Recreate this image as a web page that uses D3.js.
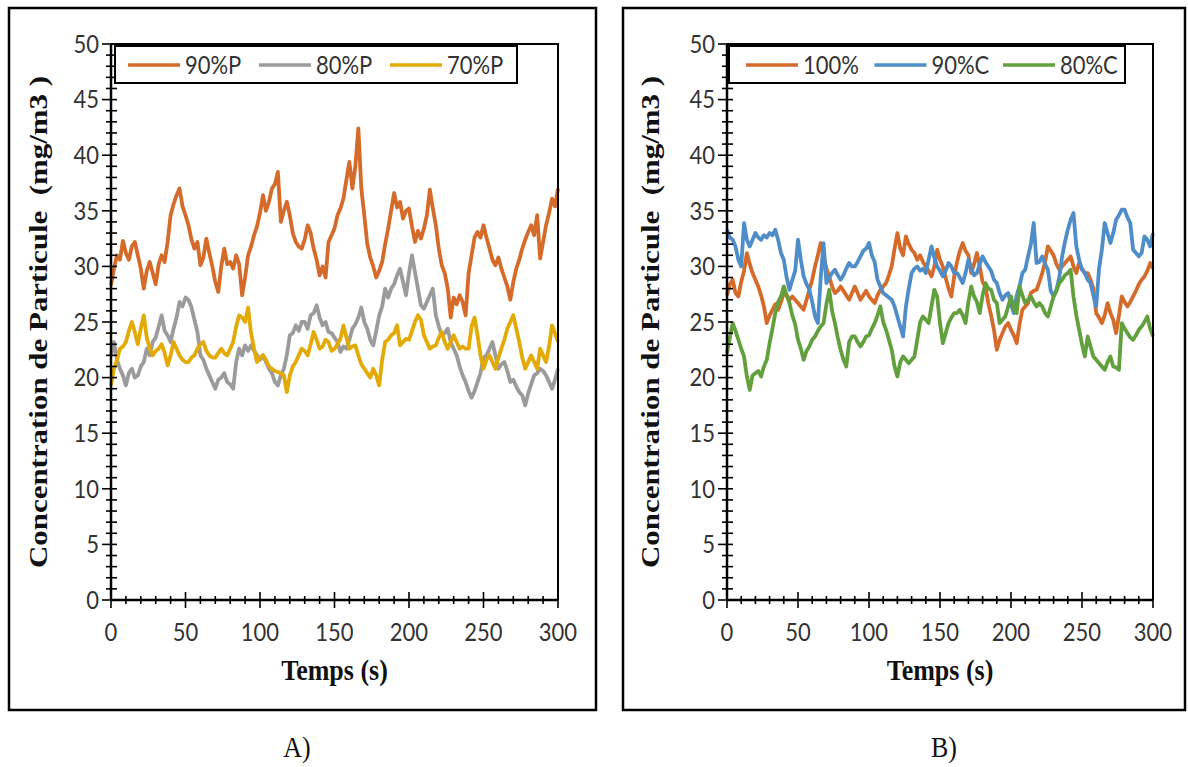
<!DOCTYPE html>
<html><head><meta charset="utf-8">
<script src="https://cdn.jsdelivr.net/npm/d3@7"></script>
<style>body{margin:0;background:#fff;} svg{display:block;} text{white-space:pre;}</style>
</head><body><svg id="c" width="1188" height="767"></svg>
<script>
// ---------- data ----------
const time = d3.range(0, 301, 2); // seconds, one reading every 2 s
const yTicks = [0,5,10,15,20,25,30,35,40,45,50];
const xTicks = [0,50,100,150,200,250,300];
const namesA = ["90%P","80%P","70%P"];
const namesB = ["100%","90%C","80%C"];
const colorsA = ["#D56B2A","#9B9B9B","#E3AA06"];
const colorsB = ["#D56B2A","#4E8DC8","#62A03E"];

const p90 = [28.3,29.8,31.0,30.6,32.3,31.2,30.6,31.8,32.2,31.0,
29.8,28.0,29.6,30.4,29.4,28.4,30.2,31.0,30.4,32.2,
34.6,35.6,36.4,37.0,35.4,34.6,33.7,32.4,31.6,32.2,
30.1,30.8,32.5,31.2,30.0,28.6,27.7,30.0,31.6,30.2,
30.4,29.8,31.0,30.2,27.4,29.0,31.0,31.8,32.8,33.6,
34.8,36.4,35.0,35.8,37.0,37.4,38.5,34.0,35.0,35.8,
34.6,33.0,32.2,31.8,31.6,32.4,33.7,33.0,31.6,30.6,
29.2,30.0,29.0,32.2,32.8,33.4,34.6,35.2,36.1,37.8,
39.4,37.0,39.0,42.4,37.0,34.6,32.0,30.8,30.0,29.0,
29.6,30.4,32.0,33.4,35.0,36.6,35.3,35.8,34.3,35.0,
35.2,33.6,32.2,33.2,32.5,33.4,34.6,36.9,35.2,33.7,
31.6,30.1,29.4,28.0,25.4,27.2,26.6,27.4,26.8,25.6,
29.4,31.0,32.6,33.1,32.6,33.7,32.6,31.6,30.6,30.1,
30.8,29.8,29.0,28.2,27.0,28.6,29.8,30.6,31.6,32.4,
33.1,33.7,32.8,34.6,30.7,32.2,33.7,34.8,36.1,35.4,
37.0];
const p80 = [22.0,23.2,21.6,20.8,20.2,19.3,20.4,20.8,20.0,20.2,
21.0,21.4,22.6,22.0,23.2,23.6,24.6,25.6,24.2,23.8,
23.2,24.4,25.4,26.8,26.4,27.2,27.0,26.3,25.2,24.1,
22.0,21.6,20.8,20.2,19.6,19.0,19.8,20.0,20.4,19.6,
19.4,19.0,21.4,22.6,22.0,22.9,22.4,22.9,22.4,22.0,
21.6,22.0,21.4,20.8,20.4,19.6,19.3,20.2,20.8,22.0,
23.8,24.0,24.7,24.2,25.0,25.0,24.4,25.6,25.8,26.5,
25.4,24.7,25.0,24.1,24.0,23.6,23.2,22.3,22.8,22.6,
23.4,24.4,24.8,25.4,26.3,25.0,24.4,23.4,22.9,24.2,
25.6,26.4,28.0,27.2,28.0,28.4,29.2,29.8,28.6,27.4,
29.4,31.0,29.5,28.0,26.5,26.2,26.8,27.4,28.0,25.6,
24.6,23.8,24.0,24.4,23.2,22.6,22.0,21.0,20.2,19.6,
18.8,18.2,18.8,19.6,20.4,21.8,22.0,22.6,23.2,22.0,
20.8,21.2,21.4,20.6,19.6,19.8,19.2,18.7,18.4,17.5,
18.6,19.4,20.2,20.4,20.8,20.6,20.2,19.6,19.0,19.8,
20.8];
const p70 = [19.3,20.8,21.6,22.6,22.8,23.2,24.2,25.0,24.1,23.0,
24.4,25.6,23.6,22.6,22.0,22.4,22.6,23.0,22.2,21.1,
22.0,23.2,22.6,22.0,21.6,21.4,21.4,21.8,22.0,22.6,
23.0,23.2,22.4,22.0,21.8,21.8,22.2,22.6,22.2,22.0,
22.6,23.2,24.6,25.6,25.4,25.0,26.3,24.0,22.6,21.4,
21.8,22.0,21.6,21.0,20.8,20.6,20.5,20.4,20.2,18.7,
20.2,21.0,21.4,22.0,22.6,22.4,22.0,23.0,24.1,23.4,
22.6,22.8,23.4,23.2,22.4,22.6,23.0,23.5,24.7,23.6,
22.6,22.8,22.9,22.0,21.2,20.8,20.4,20.0,20.8,20.2,
19.3,21.6,23.2,23.4,23.8,24.0,24.7,22.9,23.2,23.5,
23.4,24.2,25.0,25.6,25.2,23.8,23.2,22.6,22.8,22.9,
23.6,24.1,23.2,22.6,23.2,23.8,23.2,22.6,22.8,22.6,
22.6,24.6,25.4,23.8,22.0,20.8,21.6,22.0,21.4,20.8,
21.8,22.6,23.4,24.4,25.0,25.6,24.4,23.2,21.8,20.8,
21.4,22.0,21.4,20.8,22.6,22.0,21.4,22.8,24.7,24.0,
23.2];
const c100 = [27.4,28.4,28.8,27.6,27.3,28.6,29.6,31.2,30.2,29.4,
28.8,28.2,27.4,26.4,24.9,25.6,26.1,26.6,26.1,26.8,
27.6,27.4,27.0,27.3,27.0,26.7,26.4,26.1,27.0,27.9,
28.8,30.0,31.0,32.1,31.0,29.8,29.1,28.2,27.6,27.8,
28.2,27.8,27.4,27.0,27.6,28.2,27.6,27.0,27.4,27.8,
27.3,27.0,26.7,27.4,27.9,28.2,28.5,29.2,30.0,31.6,
33.0,31.6,31.0,32.7,32.0,31.5,31.2,30.6,31.0,30.4,
30.0,29.6,29.1,30.0,31.5,30.6,30.0,29.0,28.0,27.3,
29.1,30.4,31.4,32.1,31.4,31.0,29.4,30.2,31.2,30.0,
28.6,28.2,26.7,25.6,24.3,22.5,23.4,24.0,24.6,24.9,
24.3,23.8,23.1,24.8,26.1,26.4,26.7,27.6,27.8,27.9,
28.6,29.4,30.4,31.8,31.4,31.0,30.2,29.7,30.0,30.3,
30.6,30.9,30.0,29.4,30.3,29.8,29.4,29.4,28.8,28.0,
25.8,25.4,24.9,25.6,26.7,25.8,25.2,24.0,25.6,27.3,
26.8,26.4,26.8,27.3,27.8,28.4,28.8,29.1,29.6,30.3,
29.8];
const c90 = [33.3,32.6,32.4,31.8,30.6,30.0,33.9,32.4,31.8,32.4,
33.0,32.6,32.4,32.8,32.6,33.0,32.8,33.3,32.4,31.2,
30.6,29.0,27.9,28.8,29.6,32.4,30.6,29.1,28.4,27.9,
26.8,25.5,24.9,29.0,32.1,28.5,29.0,29.4,29.7,29.2,
28.8,29.2,29.8,30.3,30.0,30.0,30.4,30.9,31.4,31.6,
32.1,31.0,30.4,28.8,28.2,27.6,27.4,27.2,27.0,26.4,
25.5,24.6,23.7,26.4,28.0,29.4,29.8,30.0,29.6,29.8,
29.4,30.6,31.8,30.8,30.0,29.6,29.1,29.6,30.3,30.0,
29.4,29.4,29.0,28.5,29.4,30.6,29.8,29.2,29.4,30.2,
30.9,30.4,30.0,29.6,28.8,28.5,27.6,27.0,27.4,27.6,
26.6,25.8,27.4,28.2,29.4,29.7,30.9,32.0,33.9,30.3,
30.4,30.9,30.2,29.7,27.8,27.3,27.9,29.0,30.9,32.2,
33.3,34.2,34.8,31.8,30.6,29.7,29.4,28.8,28.5,27.4,
26.4,29.8,31.5,33.9,33.0,32.1,33.0,34.2,34.6,35.1,
35.1,34.4,33.9,31.5,31.2,30.9,31.2,32.7,32.4,31.8,
33.0];
const c80 = [22.2,23.6,24.9,24.2,23.4,22.6,21.9,20.1,18.9,20.2,
20.4,20.6,20.1,21.0,21.6,23.1,24.4,25.8,26.8,27.3,
28.2,27.4,26.7,25.6,24.8,23.4,22.6,21.6,22.4,22.8,
23.4,23.7,24.2,24.6,24.9,26.6,27.9,26.0,24.9,23.6,
22.5,21.6,21.0,23.2,23.7,23.7,23.2,22.8,23.2,23.7,
23.8,24.4,24.9,25.6,26.4,25.0,24.3,23.4,22.5,21.0,
20.1,21.4,21.9,21.6,21.3,21.6,21.9,23.4,25.0,25.5,
25.2,24.9,26.4,27.9,27.3,24.9,23.1,24.0,24.9,25.4,
25.8,25.8,26.1,25.6,24.9,26.8,28.2,27.3,26.8,25.8,
27.4,28.5,28.0,27.9,27.0,26.7,24.9,25.2,25.5,26.4,
27.3,26.2,25.8,28.2,27.4,26.7,27.0,27.3,26.8,26.4,
26.7,26.4,25.8,25.5,26.4,27.3,27.8,28.5,28.8,29.2,
29.4,29.7,27.3,25.6,24.3,23.0,21.9,23.7,22.8,21.9,
21.6,21.3,21.0,20.7,21.4,21.9,21.0,20.9,20.7,24.9,
24.4,24.0,23.6,23.4,23.8,24.3,24.6,25.0,25.5,24.4,
23.7];

const seriesA = [p90, p80, p70];
const seriesB = [c100, c90, c80];

// ---------- drawing ----------
const svg = d3.select("#c");
const TICK_FONT = "Lato, 'Open Sans', sans-serif";
const SERIF = "'Liberation Serif', 'Times New Roman', serif";
const STRETCH = 1.15; // the reference picture is stretched vertically

function stext(g, x, y, sy) {
  return g.append("text").attr("transform", `translate(${x},${y}) scale(1,${sy})`);
}

function panel(cfg) {
  const g = svg.append("g");
  g.append("rect").attr("x", cfg.frame[0]).attr("y", cfg.frame[1])
    .attr("width", cfg.frame[2]).attr("height", cfg.frame[3])
    .attr("fill", "none").attr("stroke", "#000").attr("stroke-width", 2.5);

  const x = d3.scaleLinear().domain([0, 300]).range([cfg.x0, cfg.x1]);
  const y = d3.scaleLinear().domain([0, 50]).range([600, 44]);

  const line = d3.line().x((d, i) => x(time[i])).y(d => y(d));
  cfg.series.forEach((s, k) => {
    g.append("path").datum(s).attr("d", line)
      .attr("fill", "none").attr("stroke", cfg.colors[k])
      .attr("stroke-width", 3.8).attr("stroke-linejoin", "round");
  });

  g.append("path")
    .attr("d", `M${x(0)},${y(50)}H${x(300)}V${y(0)}`)
    .attr("fill", "none").attr("stroke", "#000").attr("stroke-width", 2);

  const yMinor = d3.range(0, 51, 1);
  g.append("g").selectAll("line").data(yMinor).join("line")
    .attr("x1", d => x(0) - (d % 5 === 0 ? 9 : 5)).attr("x2", x(0) + 6)
    .attr("y1", d => y(d)).attr("y2", d => y(d))
    .attr("stroke", "#000").attr("stroke-width", 1.6);
  g.append("line").attr("x1", x(0)).attr("x2", x(0)).attr("y1", y(0)).attr("y2", y(50))
    .attr("stroke", "#000").attr("stroke-width", 2.5);
  yTicks.forEach(d => {
    stext(g, x(0) - 12, y(d), 1.1).attr("dy", "0.36em")
      .attr("text-anchor", "end").attr("font-family", TICK_FONT).attr("font-size", 22)
      .attr("fill", "#333").text(d);
  });

  const xMinor = d3.range(0, 301, 10);
  g.append("g").selectAll("line").data(xMinor).join("line")
    .attr("x1", d => x(d)).attr("x2", d => x(d))
    .attr("y1", d => y(0) - (d % 50 === 0 ? 8 : 4)).attr("y2", d => y(0) + (d % 50 === 0 ? 8 : 4))
    .attr("stroke", "#000").attr("stroke-width", 1.6);
  g.append("line").attr("x1", x(0)).attr("x2", x(300)).attr("y1", y(0)).attr("y2", y(0))
    .attr("stroke", "#000").attr("stroke-width", 2.5);
  xTicks.forEach(d => {
    stext(g, x(d), 641, 1.1)
      .attr("text-anchor", "middle").attr("font-family", TICK_FONT).attr("font-size", 22)
      .attr("fill", "#333").text(d);
  });

  stext(g, (cfg.x0 + cfg.x1) / 2, 680, STRETCH)
    .attr("text-anchor", "middle").attr("font-family", SERIF).attr("font-weight", "bold")
    .attr("font-size", 26).attr("fill", "#111").text("Temps (s)");
  g.append("text").attr("transform", `translate(${cfg.ytx},322) rotate(-90) scale(1.19,1)`)
    .attr("text-anchor", "middle").attr("dy", "0.35em").attr("font-family", SERIF)
    .attr("font-weight", "bold").attr("font-size", 26).attr("fill", "#111")
    .text("Concentration de Particule  (mg/m3 )");

  const lg = g.append("g");
  lg.append("rect").attr("x", cfg.leg[0]).attr("y", 46).attr("width", cfg.leg[1]).attr("height", 37)
    .attr("fill", "#fff").attr("stroke", "#000").attr("stroke-width", 2);
  cfg.names.forEach((n, k) => {
    const lx = cfg.leg[0] + cfg.leg[2] + k * cfg.leg[3];
    lg.append("line").attr("x1", lx).attr("x2", lx + 52).attr("y1", 65).attr("y2", 65)
      .attr("stroke", cfg.colors[k]).attr("stroke-width", 3.5);
    stext(lg, lx + 57, 65, 1.1).attr("dy", "0.36em")
      .attr("font-family", TICK_FONT).attr("font-size", 22).attr("fill", "#333").text(n);
  });

  stext(g, cfg.cap, 757, STRETCH).attr("text-anchor", "middle")
    .attr("font-family", SERIF).attr("font-size", 26).attr("fill", "#111").text(cfg.caption);
}

panel({frame: [9, 8, 587, 702], x0: 111, x1: 558, series: seriesA, colors: colorsA,
  names: namesA, leg: [115, 402, 13, 131], ytx: 38, cap: 297, caption: "A)"});
panel({frame: [623, 8, 562, 702], x0: 727, x1: 1153, series: seriesB, colors: colorsB,
  names: namesB, leg: [729, 396, 17, 128.5], ytx: 650, cap: 944, caption: "B)"});
</script></body></html>
